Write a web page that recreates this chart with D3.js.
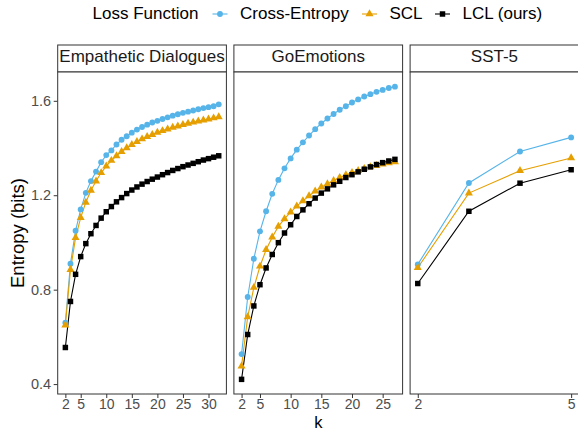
<!DOCTYPE html>
<html><head><meta charset="utf-8">
<script src="https://cdn.jsdelivr.net/npm/d3@7"></script>
<style>body{margin:0;background:#fff}svg{display:block}text{font-family:"Liberation Sans",Arial,sans-serif}</style>
</head><body><svg id="c" width="578" height="432"></svg>
<script>
const seriesNames = ["Cross-Entropy", "SCL", "LCL (ours)"];
const panelNames = ["Empathetic Dialogues", "GoEmotions", "SST-5"];
const kED = d3.range(2, 33);
const kGE = d3.range(2, 28);
const kSST = [2, 3, 4, 5];
const xTicksED = [2, 5, 10, 15, 20, 25, 30];
const xTicksGE = [2, 5, 10, 15, 20, 25];
const xTicksSST = [2, 5];
const yTicks = [0.4, 0.8, 1.2, 1.6];

const edCE = [0.66,0.91,1.05,1.14,1.21,1.26,1.30,1.34,1.37,1.39,1.415,1.435,1.45,1.465,1.478,1.489,1.499,1.508,1.515,1.523,1.53,1.537,1.543,1.549,1.554,1.559,1.564,1.569,1.573,1.577,1.585];
const edSCL = [0.65,0.885,1.02,1.105,1.17,1.22,1.26,1.295,1.323,1.347,1.367,1.385,1.40,1.414,1.427,1.438,1.448,1.457,1.466,1.473,1.48,1.487,1.493,1.499,1.504,1.509,1.514,1.518,1.522,1.527,1.532];
const edLCL = [0.555,0.75,0.865,0.94,0.995,1.037,1.072,1.103,1.13,1.152,1.172,1.19,1.207,1.222,1.235,1.247,1.258,1.268,1.277,1.287,1.296,1.305,1.313,1.321,1.328,1.335,1.342,1.349,1.355,1.361,1.367];
const geCE = [0.527,0.769,0.931,1.047,1.132,1.206,1.265,1.314,1.356,1.393,1.424,1.453,1.48,1.504,1.525,1.544,1.562,1.577,1.593,1.606,1.618,1.628,1.638,1.646,1.654,1.66];
const geSCL = [0.476,0.685,0.809,0.899,0.969,1.022,1.068,1.10,1.128,1.154,1.176,1.197,1.217,1.234,1.248,1.262,1.275,1.286,1.296,1.304,1.313,1.32,1.325,1.331,1.337,1.341];
const geLCL = [0.42,0.61,0.731,0.821,0.892,0.949,0.999,1.04,1.075,1.11,1.138,1.164,1.188,1.209,1.227,1.244,1.259,1.275,1.287,1.299,1.31,1.32,1.33,1.338,1.345,1.352];
const sstCE = [0.907,1.252,1.385,1.445];
const sstSCL = [0.893,1.209,1.304,1.358];
const sstLCL = [0.826,1.132,1.251,1.308];

const colors = ["#56B4E9", "#E69F00", "#000000"];
const shapes = [d3.symbolCircle, d3.symbolTriangle, d3.symbolSquare];
const symSizes = [27, 28, 30];

const panels = [
  {name: panelNames[0], k: kED, ticks: xTicksED, vals: [edCE, edSCL, edLCL]},
  {name: panelNames[1], k: kGE, ticks: xTicksGE, vals: [geCE, geSCL, geLCL]},
  {name: panelNames[2], k: kSST, ticks: xTicksSST, vals: [sstCE, sstSCL, sstLCL]}
];

const svg = d3.select("#c");
const pLeft = 57.7, pTop = 72, pBottom = 394, stripTop = 45, pw = 168.7, gap = 7.5;

const allY = panels.flatMap(p => p.vals.flat());
const yMin = d3.min(allY), yMax = d3.max(allY), yPad = (yMax - yMin) * 0.05;
const y = d3.scaleLinear().domain([yMin - yPad, yMax + yPad]).range([pBottom, pTop]);

const yAxis = svg.append("g").attr("transform", `translate(${pLeft},0)`)
  .call(d3.axisLeft(y).tickValues(yTicks).tickFormat(d3.format(".1f")).tickSize(4).tickPadding(2.5));
yAxis.select(".domain").remove();
yAxis.selectAll("line").attr("stroke", "#333").attr("stroke-width", 1);
yAxis.selectAll("text").attr("fill", "#4d4d4d").style("font-size", "14.5px");

svg.append("text").attr("transform", `translate(19.5,${(pTop + pBottom) / 2}) rotate(-90)`)
  .attr("text-anchor", "middle").attr("dominant-baseline", "middle")
  .style("font-size", "18.5px").attr("fill", "#000").text("Entropy (bits)");

panels.forEach((p, i) => {
  const x0 = pLeft + i * (pw + gap);
  const kMin = d3.min(p.k), kMax = d3.max(p.k), kPad = (kMax - kMin) * 0.05;
  const x = d3.scaleLinear().domain([kMin - kPad, kMax + kPad]).range([x0, x0 + pw]);
  const g = svg.append("g");
  g.append("rect").attr("x", x0).attr("y", stripTop).attr("width", pw).attr("height", pTop - stripTop)
    .attr("fill", "#fff").attr("stroke", "#333").attr("stroke-width", 1);
  g.append("text").attr("x", x0 + pw / 2).attr("y", 58)
    .attr("text-anchor", "middle").attr("dominant-baseline", "middle")
    .style("font-size", "17px").attr("fill", "#1a1a1a").text(p.name);
  g.append("rect").attr("x", x0).attr("y", pTop).attr("width", pw).attr("height", pBottom - pTop)
    .attr("fill", "#fff").attr("stroke", "#333").attr("stroke-width", 1);
  const xa = g.append("g").attr("transform", `translate(0,${pBottom})`)
    .call(d3.axisBottom(x).tickValues(p.ticks).tickFormat(d3.format("d")).tickSize(4).tickPadding(1));
  xa.select(".domain").remove();
  xa.selectAll("line").attr("stroke", "#333").attr("stroke-width", 1);
  xa.selectAll("text").attr("fill", "#4d4d4d").style("font-size", "14px");
  const line = d3.line().x((d, j) => x(p.k[j])).y(d => y(d));
  p.vals.forEach((v, s) => {
    g.append("path").datum(v).attr("d", line).attr("fill", "none")
      .attr("stroke", colors[s]).attr("stroke-width", 1.1);
  });
  p.vals.forEach((v, s) => {
    g.selectAll(null).data(v).enter().append("path")
      .attr("d", d3.symbol().type(shapes[s]).size(symSizes[s]))
      .attr("transform", (d, j) => `translate(${x(p.k[j])},${y(d)})`)
      .attr("fill", colors[s]);
  });
});

svg.append("text").attr("x", pLeft + (3 * pw + 2 * gap) / 2).attr("y", 427.5)
  .attr("text-anchor", "middle")
  .style("font-size", "16.5px").attr("fill", "#000").text("k");

const lg = svg.append("g");
lg.append("text").attr("x", 92.5).attr("y", 14.5).attr("dominant-baseline", "middle")
  .style("font-size", "17px").attr("fill", "#000").text("Loss Function");
const keyX = [212.5, 362, 435];
seriesNames.forEach((n, s) => {
  const kx = keyX[s];
  lg.append("line").attr("x1", kx).attr("x2", kx + 15).attr("y1", 14).attr("y2", 14)
    .attr("stroke", colors[s]).attr("stroke-width", 1.1);
  lg.append("path").attr("d", d3.symbol().type(shapes[s]).size(symSizes[s]))
    .attr("transform", `translate(${kx + 7.5},14)`).attr("fill", colors[s]);
  lg.append("text").attr("x", kx + 27.5).attr("y", 14.5).attr("dominant-baseline", "middle")
    .style("font-size", "17px").attr("fill", "#000").text(n);
});
</script></body></html>
